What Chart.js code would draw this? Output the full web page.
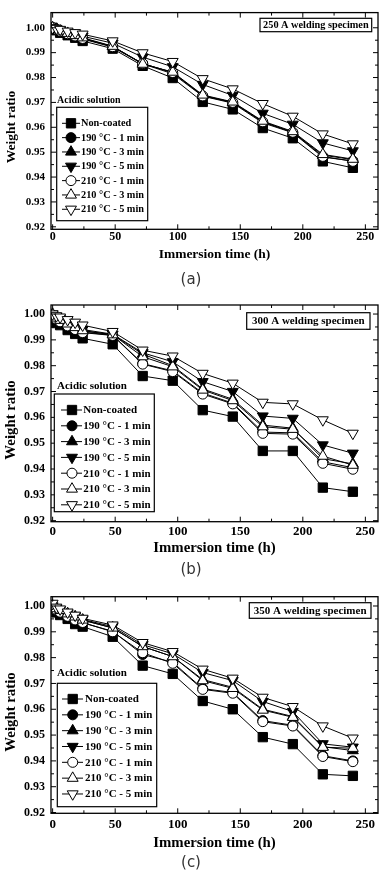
<!DOCTYPE html>
<html>
<head>
<meta charset="utf-8">
<script src="https://cdn.jsdelivr.net/npm/chart.js@4.4.1/dist/chart.umd.min.js"></script>
<style>
  html,body{margin:0;padding:0;background:#fff;}
  #wrap{position:relative;width:388px;height:876px;overflow:hidden;}
  canvas{position:absolute;left:0;}
</style>
</head>
<body>
<div id="wrap">
  <canvas id="cA" width="388" height="290" style="top:0px"></canvas>
  <canvas id="cB" width="388" height="290" style="top:290px"></canvas>
  <canvas id="cC" width="388" height="296" style="top:580px"></canvas>
</div>
<script>
// ---------------- DATA ----------------
const hours = [0, 3, 6, 12, 18, 24, 48, 72, 96, 120, 144, 168, 192, 216, 240];
const seriesNames = ['Non-coated', '190 °C - 1 min', '190 °C - 3 min', '190 °C - 5 min',
                     '210 °C - 1 min', '210 °C - 3 min', '210 °C - 5 min'];
const xTicks = [0, 50, 100, 150, 200, 250];
const yTicks = [0.92, 0.93, 0.94, 0.95, 0.96, 0.97, 0.98, 0.99, 1.00];
const specimenLabels = ['250 A welding specimen', '300 A welding specimen', '350 A welding specimen'];
const captions = ['(a)', '(b)', '(c)'];
const solutionLabel = 'Acidic solution';
const xTitle = 'Immersion time (h)';
const yTitle = 'Weight ratio';

// (a) 250 A
const a_nonCoated = [1.000, 0.9990, 0.9980, 0.9970, 0.9960, 0.9947, 0.9916, 0.9847, 0.9798, 0.9702, 0.9672, 0.9597, 0.9556, 0.9463, 0.9437];
const a_190_1 = [1.000, 0.9993, 0.9985, 0.9975, 0.9966, 0.9955, 0.9922, 0.9855, 0.9815, 0.9725, 0.9697, 0.9618, 0.9578, 0.9480, 0.9465];
const a_190_3 = [1.000, 0.9994, 0.9987, 0.9977, 0.9968, 0.9958, 0.9925, 0.9856, 0.9820, 0.9728, 0.9700, 0.9622, 0.9580, 0.9488, 0.9470];
const a_190_5 = [1.000, 0.9996, 0.9990, 0.9982, 0.9974, 0.9966, 0.9938, 0.9882, 0.9843, 0.9772, 0.9728, 0.9656, 0.9612, 0.9537, 0.9505];
const a_210_1 = [1.000, 0.9993, 0.9986, 0.9976, 0.9967, 0.9957, 0.9924, 0.9856, 0.9820, 0.9726, 0.9700, 0.9622, 0.9580, 0.9483, 0.9463];
const a_210_3 = [1.000, 0.9994, 0.9987, 0.9978, 0.9969, 0.9960, 0.9926, 0.9854, 0.9822, 0.9730, 0.9702, 0.9625, 0.9583, 0.9491, 0.9472];
const a_210_5 = [1.000, 0.9997, 0.9993, 0.9986, 0.9980, 0.9974, 0.9947, 0.9899, 0.9864, 0.9795, 0.9754, 0.9695, 0.9644, 0.9573, 0.9533];

// (b) 300 A
const b_nonCoated = [0.998, 0.9965, 0.9957, 0.9938, 0.9923, 0.9906, 0.9883, 0.9760, 0.9742, 0.9628, 0.9603, 0.9470, 0.9470, 0.9328, 0.9312];
const b_190_1 = [0.999, 0.9980, 0.9972, 0.9955, 0.9942, 0.9930, 0.9918, 0.9808, 0.9780, 0.9694, 0.9655, 0.9543, 0.9540, 0.9428, 0.9405];
const b_190_3 = [0.999, 0.9982, 0.9975, 0.9960, 0.9946, 0.9934, 0.9920, 0.9845, 0.9800, 0.9710, 0.9670, 0.9570, 0.9558, 0.9440, 0.9420];
const b_190_5 = [1.000, 0.9990, 0.9982, 0.9968, 0.9955, 0.9940, 0.9922, 0.9850, 0.9815, 0.9738, 0.9700, 0.9605, 0.9596, 0.9493, 0.9461];
const b_210_1 = [0.999, 0.9980, 0.9970, 0.9954, 0.9940, 0.9928, 0.9917, 0.9806, 0.9777, 0.9690, 0.9652, 0.9538, 0.9535, 0.9422, 0.9399];
const b_210_3 = [1.000, 0.9985, 0.9976, 0.9962, 0.9948, 0.9936, 0.9920, 0.9835, 0.9796, 0.9706, 0.9665, 0.9564, 0.9554, 0.9450, 0.9415];
const b_210_5 = [1.000, 0.9993, 0.9988, 0.9978, 0.9968, 0.9957, 0.9932, 0.9860, 0.9837, 0.9770, 0.9732, 0.9658, 0.9652, 0.9590, 0.9538];

// (c) 350 A
const c_nonCoated = [0.999, 0.9975, 0.9965, 0.9950, 0.9930, 0.9920, 0.9881, 0.9769, 0.9737, 0.9632, 0.9600, 0.9492, 0.9465, 0.9348, 0.9342];
const c_190_1 = [1.000, 0.9985, 0.9975, 0.9960, 0.9945, 0.9935, 0.9902, 0.9812, 0.9782, 0.9680, 0.9665, 0.9556, 0.9538, 0.9420, 0.9400];
const c_190_3 = [1.000, 0.9990, 0.9982, 0.9970, 0.9958, 0.9945, 0.9915, 0.9843, 0.9804, 0.9715, 0.9685, 0.9600, 0.9572, 0.9455, 0.9440];
const c_190_5 = [1.000, 0.9992, 0.9985, 0.9972, 0.9960, 0.9948, 0.9920, 0.9850, 0.9815, 0.9742, 0.9711, 0.9630, 0.9591, 0.9466, 0.9453];
const c_210_1 = [1.000, 0.9985, 0.9976, 0.9960, 0.9946, 0.9936, 0.9900, 0.9819, 0.9778, 0.9677, 0.9662, 0.9552, 0.9535, 0.9417, 0.9397];
const c_210_3 = [1.000, 0.9990, 0.9983, 0.9970, 0.9958, 0.9946, 0.9915, 0.9843, 0.9804, 0.9711, 0.9681, 0.9597, 0.9569, 0.9453, 0.9449];
const c_210_5 = [1.001, 0.9995, 0.9988, 0.9976, 0.9964, 0.9952, 0.9926, 0.9858, 0.9823, 0.9755, 0.9720, 0.9646, 0.9610, 0.9535, 0.9488];

// ---------------- STYLES / LAYOUT ----------------
const markerStyles = [
  {style: 'rect',     fill: '#000', r: 6.6, rot: 0},
  {style: 'circle',   fill: '#000', r: 5.0, rot: 0},
  {style: 'triangle', fill: '#000', r: 6.3, rot: 0},
  {style: 'triangle', fill: '#000', r: 6.3, rot: 180},
  {style: 'circle',   fill: '#fff', r: 5.0, rot: 0},
  {style: 'triangle', fill: '#fff', r: 6.3, rot: 0},
  {style: 'triangle', fill: '#fff', r: 6.3, rot: 180}
];
const SERIF = '"Liberation Serif", "Times New Roman", serif';

const panels = [
  { canvas: 'cA', H: 290, data: [a_nonCoated, a_190_1, a_190_3, a_190_5, a_210_1, a_210_3, a_210_5],
    area: {left: 51, right: 378, top: 5, bottom: 229.3}, yMin: 0.919, yMax: 1.0061, xMin: -1.3, xMax: 260.1,
    yFont: 11, xFont: 12, xPad: 0,
    legend: {box: [56.7, 107.3, 147.7, 220.7], y0: 123.3, dy: 14.33, lx0: 62, lx1: 80, mx: 71, tx: 81, font: 10.3,
             solX: 57, solY: 100, solFont: 10},
    spec: {box: [260, 18.3, 371.7, 31.7], font: 10.3},
    yT: {x: 12, y: 127, font: 13.5}, xT: {y: 255, font: 13.5}, cap: {x: 191, y: 280} },
  { canvas: 'cB', H: 290, data: [b_nonCoated, b_190_1, b_190_3, b_190_5, b_210_1, b_210_3, b_210_5],
    area: {left: 51, right: 378, top: 15, bottom: 231.7}, yMin: 0.9196, yMax: 1.0035, xMin: -1.3, xMax: 260.1,
    yFont: 12, xFont: 13, xPad: 2,
    legend: {box: [54.3, 104, 154.3, 221.7], y0: 120, dy: 15.8, lx0: 61, lx1: 82, mx: 72, tx: 83.3, font: 11,
             solX: 57, solY: 96, solFont: 11},
    spec: {box: [246.7, 22.7, 370, 39.3], font: 11},
    yT: {x: 11, y: 130, font: 14.8}, xT: {y: 258.3, font: 14.8}, cap: {x: 191, y: 280} },
  { canvas: 'cC', H: 296, data: [c_nonCoated, c_190_1, c_190_3, c_190_5, c_210_1, c_210_3, c_210_5],
    area: {left: 51, right: 378, top: 16.7, bottom: 233.3}, yMin: 0.9197, yMax: 1.0036, xMin: -1.3, xMax: 260.1,
    yFont: 12, xFont: 13, xPad: 4,
    legend: {box: [57.3, 103.3, 156.7, 226.7], y0: 119, dy: 15.83, lx0: 62, lx1: 83, mx: 72.7, tx: 85, font: 11,
             solX: 57, solY: 93.3, solFont: 11},
    spec: {box: [249.3, 22.7, 371, 38.3], font: 11},
    yT: {x: 11, y: 132, font: 14.8}, xT: {y: 263.3, font: 14.8}, cap: {x: 191, y: 283} }
];

// ---------------- HELPERS ----------------
function drawMarker(ctx, st, x, y) {
  ctx.save();
  ctx.fillStyle = st.fill; ctx.strokeStyle = '#000'; ctx.lineWidth = 1;
  ctx.beginPath();
  if (st.style === 'circle') {
    ctx.arc(x, y, st.r, 0, Math.PI * 2);
  } else if (st.style === 'rect') {
    const h = st.r * Math.SQRT1_2;
    ctx.rect(x - h, y - h, 2 * h, 2 * h);
  } else {
    let rad = st.rot * Math.PI / 180;
    for (let k = 0; k < 3; k++) {
      const px = x + Math.sin(rad) * st.r, py = y - Math.cos(rad) * st.r;
      if (k === 0) ctx.moveTo(px, py); else ctx.lineTo(px, py);
      rad += 2 * Math.PI / 3;
    }
    ctx.closePath();
  }
  ctx.fill(); ctx.stroke();
  ctx.restore();
}

const decor = {
  id: 'decor',
  afterDraw(chart, args, opts) {
    const P = opts.panel, idx = opts.idx;
    const ctx = chart.ctx, ca = chart.chartArea;
    const xs = chart.scales.x, ys = chart.scales.y;
    ctx.save();
    // frame
    ctx.strokeStyle = '#000'; ctx.lineWidth = 1.3;
    ctx.strokeRect(ca.left, ca.top, ca.right - ca.left, ca.bottom - ca.top);
    // inward ticks on all sides
    ctx.lineWidth = 1;
    ctx.beginPath();
    for (let k = 0; k <= 10; k++) {
      const v = k * 25, len = (k % 2 === 0) ? 5 : 3, px = xs.getPixelForValue(v);
      ctx.moveTo(px, ca.bottom); ctx.lineTo(px, ca.bottom - len);
      ctx.moveTo(px, ca.top); ctx.lineTo(px, ca.top + len);
    }
    for (let k = 0; k <= 16; k++) {
      const v = 0.92 + k * 0.005, len = (k % 2 === 0) ? 5 : 3, py = ys.getPixelForValue(v);
      if (py < ca.top - 0.5) continue;
      ctx.moveTo(ca.left, py); ctx.lineTo(ca.left + len, py);
      ctx.moveTo(ca.right, py); ctx.lineTo(ca.right - len, py);
    }
    ctx.stroke();

    // legend
    const L = P.legend;
    ctx.fillStyle = '#000';
    ctx.font = 'bold ' + L.solFont + 'px ' + SERIF;
    ctx.textAlign = 'left'; ctx.textBaseline = 'middle';
    ctx.fillText(solutionLabel, L.solX, L.solY);
    ctx.fillStyle = '#fff';
    ctx.fillRect(L.box[0], L.box[1], L.box[2] - L.box[0], L.box[3] - L.box[1]);
    ctx.strokeStyle = '#000'; ctx.lineWidth = 1.2;
    ctx.strokeRect(L.box[0], L.box[1], L.box[2] - L.box[0], L.box[3] - L.box[1]);
    ctx.font = 'bold ' + L.font + 'px ' + SERIF;
    seriesNames.forEach((name, i) => {
      const y = L.y0 + i * L.dy;
      ctx.strokeStyle = '#000'; ctx.lineWidth = 1;
      ctx.beginPath(); ctx.moveTo(L.lx0, y); ctx.lineTo(L.lx1, y); ctx.stroke();
      drawMarker(ctx, markerStyles[i], L.mx, y);
      ctx.fillStyle = '#000';
      ctx.fillText(name, L.tx, y + 0.5);
    });

    // specimen box
    const S = P.spec;
    ctx.fillStyle = '#fff';
    ctx.fillRect(S.box[0], S.box[1], S.box[2] - S.box[0], S.box[3] - S.box[1]);
    ctx.strokeStyle = '#000'; ctx.lineWidth = 1.2;
    ctx.strokeRect(S.box[0], S.box[1], S.box[2] - S.box[0], S.box[3] - S.box[1]);
    ctx.fillStyle = '#000';
    ctx.font = 'bold ' + S.font + 'px ' + SERIF;
    ctx.textAlign = 'center';
    ctx.fillText(specimenLabels[idx], (S.box[0] + S.box[2]) / 2, (S.box[1] + S.box[3]) / 2 + 0.5);

    // axis titles
    ctx.font = 'bold ' + P.xT.font + 'px ' + SERIF;
    ctx.fillText(xTitle, (ca.left + ca.right) / 2, P.xT.y);
    ctx.save();
    ctx.translate(P.yT.x, P.yT.y);
    ctx.rotate(-Math.PI / 2);
    ctx.font = 'bold ' + P.yT.font + 'px ' + SERIF;
    ctx.fillText(yTitle, 0, 0);
    ctx.restore();

    // caption
    ctx.fillStyle = '#333';
    ctx.font = '15px "DejaVu Sans", sans-serif';
    ctx.fillText(captions[idx], P.cap.x, P.cap.y);
    ctx.restore();
  }
};

// ---------------- CHARTS ----------------
panels.forEach((P, idx) => {
  const datasets = P.data.map((vals, i) => {
    const st = markerStyles[i];
    return {
      label: seriesNames[i],
      data: hours.map((h, k) => ({x: h, y: vals[k]})),
      borderColor: '#000',
      borderWidth: 1,
      backgroundColor: st.fill,
      pointStyle: st.style,
      pointRotation: st.rot,
      pointRadius: st.r,
      pointBorderWidth: 1,
      pointBorderColor: '#000',
      pointBackgroundColor: st.fill,
      tension: 0,
      order: 7 - i
    };
  });
  new Chart(document.getElementById(P.canvas), {
    type: 'line',
    data: {datasets},
    plugins: [decor],
    options: {
      responsive: false,
      animation: false,
      events: [],
      layout: {padding: {top: P.area.top, right: 388 - P.area.right, left: 0, bottom: 0}},
      plugins: {legend: {display: false}, tooltip: {enabled: false}, decor: {panel: P, idx: idx}},
      scales: {
        x: {
          type: 'linear', min: P.xMin, max: P.xMax,
          grid: {display: false, drawTicks: false}, border: {display: false},
          afterFit: (s) => { s.height = P.H - P.area.bottom; },
          afterBuildTicks: (s) => { s.ticks = xTicks.map(v => ({value: v})); },
          ticks: {color: '#000', padding: P.xPad, maxRotation: 0, autoSkip: false,
                  font: {family: SERIF, weight: 'bold', size: P.xFont},
                  callback: (v) => String(v)}
        },
        y: {
          type: 'linear', min: P.yMin, max: P.yMax,
          grid: {display: false, drawTicks: false}, border: {display: false},
          afterFit: (s) => { s.width = P.area.left; },
          afterBuildTicks: (s) => { s.ticks = yTicks.map(v => ({value: v})); },
          ticks: {color: '#000', padding: 6, autoSkip: false,
                  font: {family: SERIF, weight: 'bold', size: P.yFont},
                  callback: (v) => Number(v).toFixed(2)}
        }
      }
    }
  });
});
</script>
</body>
</html>
